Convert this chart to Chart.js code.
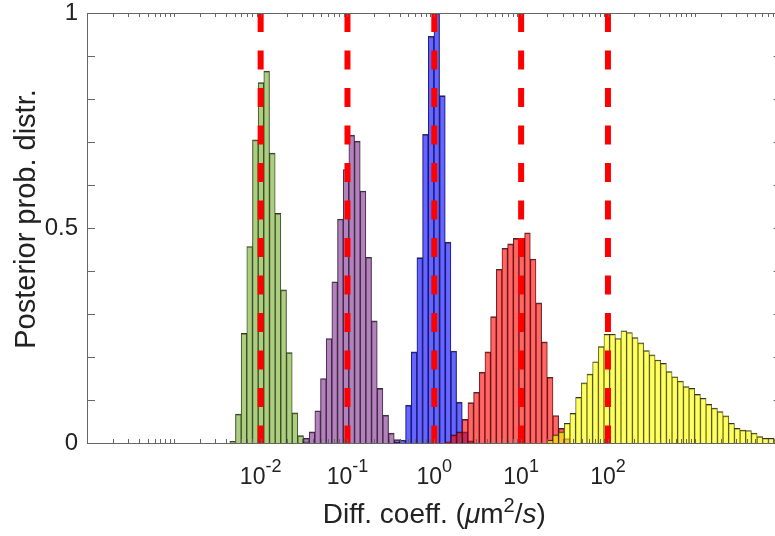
<!DOCTYPE html>
<html>
<head>
<meta charset="utf-8">
<script src="https://cdn.jsdelivr.net/npm/chart.js@4.4.0/dist/chart.umd.min.js"></script>
<style>
  html, body { margin: 0; padding: 0; background: #fff; overflow: hidden; }
  #wrap { width: 775px; height: 536px; overflow: hidden; }
</style>
</head>
<body>
<div id="wrap"><canvas id="chart" width="790" height="536"></canvas></div>
<script>
// histogram bins are evenly spaced in log10(D)
var binWidth = 0.0653;
var firstBinCenter = -2.2573; // log10 of bin 0 centre

// posterior histograms, values per bin, starting at bin index *Start
var greenStart = -1;
var greenValues = [0.004, 0.067, 0.255, 0.457, 0.705, 0.838, 0.865, 0.674, 0.534, 0.356, 0.21, 0.07, 0.017, 0.003];
var purpleStart = 12;
var purpleValues = [0.011, 0.026, 0.075, 0.15, 0.243, 0.375, 0.521, 0.636, 0.716, 0.702, 0.586, 0.432, 0.284, 0.127, 0.065, 0.023, 0.008];
var blueStart = 28;
var blueValues = [0.003, 0.007, 0.088, 0.212, 0.431, 0.718, 0.946, 1.0, 0.808, 0.467, 0.214, 0.095, 0.026, 0.005];
var redStart = 37;
var redValues = [0.003, 0.019, 0.026, 0.055, 0.094, 0.118, 0.165, 0.212, 0.294, 0.404, 0.453, 0.463, 0.476, 0.476, 0.489, 0.428, 0.326, 0.235, 0.153, 0.064, 0.034, 0.01];
var yellowStart = 55;
var yellowValues = [0.007, 0.019, 0.026, 0.046, 0.069, 0.106, 0.14, 0.16, 0.189, 0.224, 0.253, 0.253, 0.243, 0.261, 0.257, 0.245, 0.233, 0.215, 0.205, 0.193, 0.185, 0.166, 0.154, 0.144, 0.131, 0.127, 0.113, 0.104, 0.09, 0.081, 0.073, 0.063, 0.046, 0.034, 0.03, 0.029, 0.023, 0.015, 0.011, 0.011, 0.008, 0.006, 0.004];

// true diffusion coefficients (dashed lines)
var trueValues = [0.01, 0.1, 1, 10, 100];

var xTickExponents = [-2, -1, 0, 1, 2];
var yTickValues = [0, 0.5, 1];

var FONT = "'Liberation Sans', Arial, Helvetica, sans-serif";
var TEXT = '#222';
var AXIS = '#666';

function binPoints(start, values) {
  return values.map(function (v, i) {
    return { x: Math.pow(10, firstBinCenter + binWidth * (start + i)), y: v };
  });
}

function hist(label, data, fill, order) {
  return {
    type: 'bar',
    label: label,
    data: data,
    backgroundColor: fill,
    borderColor: 'rgba(0,0,0,0.8)',
    borderWidth: { top: 1, left: 0.5, right: 0.5, bottom: 0 },
    grouped: false,
    barPercentage: 1,
    categoryPercentage: 1,
    order: order
  };
}

var datasets = [
  hist('green', binPoints(greenStart, greenValues), 'rgba(119,172,48,0.6)', 5),
  hist('purple', binPoints(purpleStart, purpleValues), 'rgba(126,47,142,0.6)', 4),
  hist('blue', binPoints(blueStart, blueValues), 'rgba(0,0,255,0.6)', 3),
  hist('red', binPoints(redStart, redValues), 'rgba(255,0,0,0.6)', 2),
  hist('yellow', binPoints(yellowStart, yellowValues), 'rgba(255,255,0,0.6)', 1)
];
trueValues.forEach(function (v) {
  datasets.push({
    type: 'line',
    data: [{ x: v, y: 1 }, { x: v, y: 0 }],
    borderColor: 'rgb(255,0,0)',
    borderWidth: 6,
    borderDash: [19, 18.5],
    borderCapStyle: 'butt',
    pointRadius: 0,
    fill: false,
    order: 0
  });
});

// box, inward ticks, superscript labels, axis titles
var frame = {
  id: 'frame',
  afterDatasetsDraw: function (chart) {
    var c = chart.ctx, a = chart.chartArea;
    var xs = chart.scales.x, ys = chart.scales.y;
    c.save();
    c.strokeStyle = AXIS;
    c.lineWidth = 1;
    c.beginPath();
    c.rect(a.left + 0.5, a.top + 0.5, a.right - a.left, a.bottom - a.top);
    // x ticks
    for (var e = -4; e <= 4; e++) {
      for (var m = 1; m <= 9; m++) {
        var v = m * Math.pow(10, e);
        if (v > 1e4 * 1.0001) break;
        var px = Math.round(xs.getPixelForValue(v)) + 0.5;
        c.moveTo(px, a.bottom); c.lineTo(px, a.bottom - 4);
        c.moveTo(px, a.top); c.lineTo(px, a.top + 4);
      }
    }
    // y ticks
    for (var k = 0; k <= 10; k++) {
      var py = Math.round(ys.getPixelForValue(k / 10)) + 0.5;
      c.moveTo(a.left, py); c.lineTo(a.left + 8, py);
      c.moveTo(a.right, py); c.lineTo(a.right - 8, py);
    }
    c.stroke();

    // x tick labels 10^n
    c.fillStyle = TEXT;
    c.textBaseline = 'alphabetic';
    c.textAlign = 'left';
    var baseFont = '23px ' + FONT, supFont = '18px ' + FONT;
    xTickExponents.forEach(function (n) {
      var px = xs.getPixelForValue(Math.pow(10, n));
      c.font = baseFont;
      var wb = c.measureText('10').width;
      c.font = supFont;
      var we = c.measureText(String(n)).width;
      var x0 = px - (wb + we) / 2;
      c.font = baseFont;
      c.fillText('10', x0, 484);
      c.font = supFont;
      c.fillText(String(n), x0 + wb, 472);
    });

    // x axis title
    var parts = [
      { t: 'Diff. coeff. (', f: '28px ' + FONT, dy: 0 },
      { t: '\u03bc', f: 'italic 28px ' + FONT, dy: 0 },
      { t: 'm', f: '28px ' + FONT, dy: 0 },
      { t: '2', f: '20px ' + FONT, dy: -11 },
      { t: '/', f: '28px ' + FONT, dy: 0 },
      { t: 's', f: 'italic 28px ' + FONT, dy: 0 },
      { t: ')', f: '28px ' + FONT, dy: 0 }
    ];
    var total = 0;
    parts.forEach(function (p) { c.font = p.f; p.w = c.measureText(p.t).width; total += p.w; });
    var x = (a.left + a.right) / 2 - total / 2;
    parts.forEach(function (p) { c.font = p.f; c.fillText(p.t, x, 523 + p.dy); x += p.w; });

    // y axis title
    c.translate(35, 219);
    c.rotate(-Math.PI / 2);
    c.textAlign = 'center';
    c.font = '29px ' + FONT;
    c.fillText('Posterior prob. distr.', 0, 0);
    c.restore();
  }
};

var ctx = document.getElementById('chart').getContext('2d');
var myChart = new Chart(ctx, {
  type: 'bar',
  data: { datasets: datasets },
  options: {
    responsive: false,
    animation: false,
    layout: { padding: { top: 13, right: 8.4, bottom: 0, left: 0 } },
    plugins: { legend: { display: false }, tooltip: { enabled: false } },
    scales: {
      x: {
        type: 'logarithmic',
        min: 1e-4,
        max: 1e4,
        grid: { display: false, drawTicks: false },
        border: { display: false },
        ticks: { display: false },
        afterBuildTicks: function (s) {
          s.ticks = [-4, -3, -2, -1, 0, 1, 2, 3, 4].map(function (e) { return { value: Math.pow(10, e) }; });
        },
        afterFit: function (s) { s.height = 93; s.paddingLeft = 0; s.paddingRight = 0; }
      },
      y: {
        min: 0,
        max: 1,
        grid: { display: false, drawTicks: false },
        border: { display: false },
        ticks: {
          color: TEXT,
          padding: 9,
          font: { family: FONT, size: 24 },
          callback: function (v) { return String(v); }
        },
        afterBuildTicks: function (s) {
          s.ticks = yTickValues.map(function (v) { return { value: v }; });
        },
        afterFit: function (s) { s.width = 87; s.paddingTop = 0; s.paddingBottom = 0; }
      }
    }
  },
  plugins: [frame]
});
</script>
</body>
</html>
